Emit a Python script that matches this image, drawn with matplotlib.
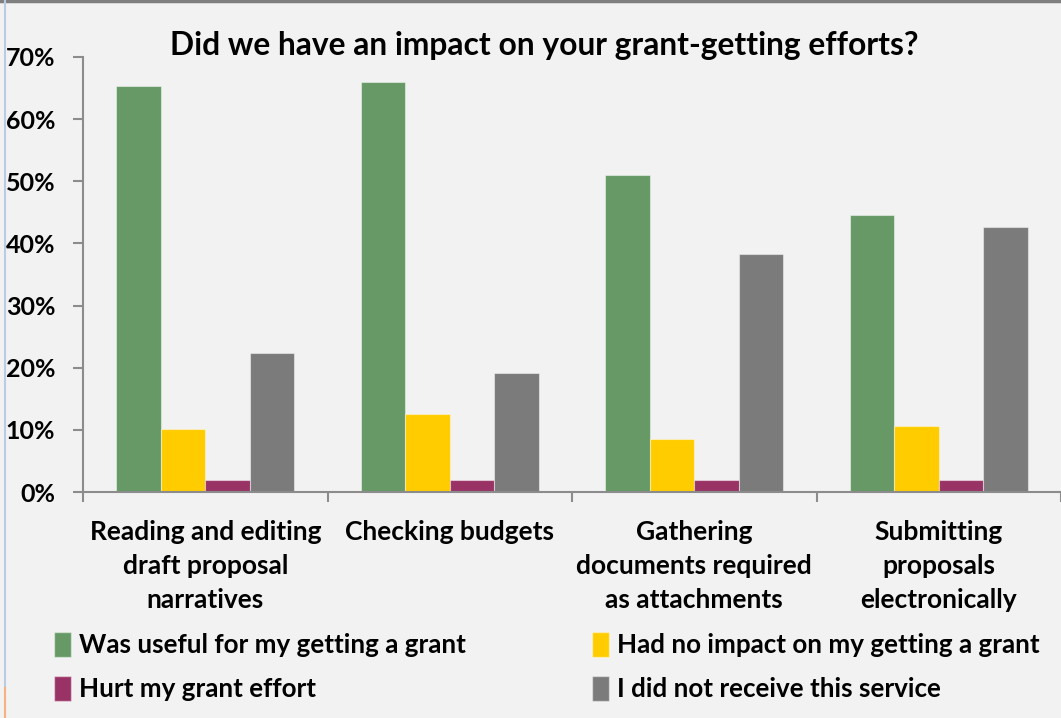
import numpy as np
import matplotlib.pyplot as plt
from matplotlib.patches import Patch
from matplotlib.lines import Line2D

plt.rcParams['font.family'] = ['Lato', 'DejaVu Sans']
plt.rcParams['font.weight'] = 'bold'

# Datos (porcentajes)
categorias = ["Reading and editing\ndraft proposal\nnarratives",
              "Checking budgets",
              "Gathering\ndocuments required\nas attachments",
              "Submitting\nproposals\nelectronically"]
series = ["Was useful for my getting a grant",
          "Had no impact on my getting a grant",
          "Hurt my grant effort",
          "I did not receive this service"]
util = [65.4, 66.0, 51.0, 44.5]
sin_impacto = [10.1, 12.5, 8.5, 10.7]
perjudico = [1.9, 1.9, 1.9, 1.9]
no_recibio = [22.4, 19.1, 38.3, 42.7]
colores = ['#669966', '#FFCC00', '#993366', '#7B7B7B']

fondo = '#F2F2F2'
gris_eje = '#8C8C8C'

fig = plt.figure(figsize=(10.61, 7.18), dpi=100, facecolor=fondo)
ax = fig.add_axes([83 / 1061, 226 / 718, 978 / 1061, 435 / 718])
ax.set_facecolor(fondo)

x = np.arange(len(categorias))
ancho = 0.182
valores = [util, sin_impacto, perjudico, no_recibio]
for i, (vals, col) in enumerate(zip(valores, colores)):
    ax.bar(x + (i - 1.5) * ancho, vals, ancho, color=col,
           edgecolor=(1, 1, 1, 0.45), linewidth=0.8, label=series[i], zorder=2)

ax.set_xlim(-0.5, 3.5)
ax.set_ylim(0, 70)
ax.set_yticks(range(0, 71, 10))
ax.set_yticklabels([f"{v}%" for v in range(0, 71, 10)], fontsize=18)
ax.set_xticks(np.arange(-0.5, 4, 1))
ax.set_xticklabels([])
ax.set_xticks(x, minor=True)
ax.set_xticklabels(categorias, minor=True, fontsize=19, linespacing=1.5)
ax.tick_params(axis='x', which='minor', length=0, pad=20)
ax.tick_params(axis='x', which='major', length=7, width=1.5, color=gris_eje)
ax.tick_params(axis='y', length=7, width=1.5, color=gris_eje, pad=13)

for lado in ['top', 'right']:
    ax.spines[lado].set_visible(False)
for lado in ['left', 'bottom']:
    ax.spines[lado].set_color(gris_eje)
    ax.spines[lado].set_linewidth(1.5)

fig.text(544 / 1061, 1 - 45 / 718, "Did we have an impact on your grant-getting efforts?",
         ha='center', va='center', fontsize=22.9)

# Leyenda en dos columnas
h = [Patch(facecolor=c, edgecolor=(1, 1, 1, 0.45)) for c in colores]
opciones = dict(loc='upper left', frameon=False, fontsize=18.7,
                handlelength=0.66, handleheight=1.1, handletextpad=0.3,
                labelspacing=0.71, borderpad=0, borderaxespad=0)
fig.legend([h[0], h[2]], [series[0], series[2]],
           bbox_to_anchor=(54 / 1061, 1 - 632 / 718), **opciones)
fig.legend([h[1], h[3]], [series[1], series[3]],
           bbox_to_anchor=(592 / 1061, 1 - 632 / 718), **opciones)

# Bordes de la hoja de calculo
fig.add_artist(Line2D([0, 1], [0.998, 0.998], color='#7F7F7F', lw=2.5,
                      transform=fig.transFigure))
fig.add_artist(Line2D([5 / 1061, 5 / 1061], [30 / 718, 1], color='#B8CCE4', lw=1.5,
                      transform=fig.transFigure))
fig.add_artist(Line2D([5 / 1061, 5 / 1061], [0, 30 / 718], color='#F4B183', lw=1.5,
                      transform=fig.transFigure))

fig.savefig("out.png", dpi=100, facecolor=fondo)
